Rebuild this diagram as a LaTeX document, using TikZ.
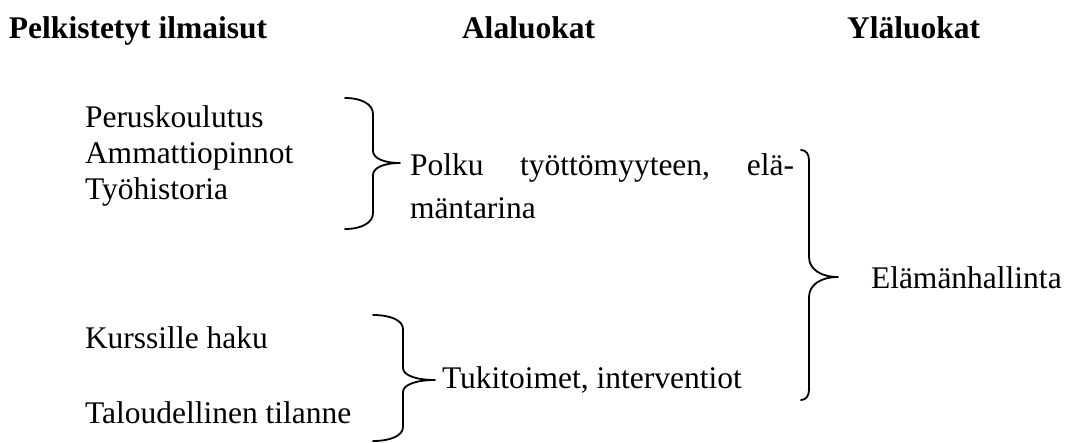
\documentclass[tikz,border=0pt]{standalone}
\usepackage{fontspec}
\setmainfont{Liberation Serif}
\newcommand\wbrace[8]{% L V T A M B rt rm
  \draw[bracestyle] (#1,#4) .. controls ({#1+0.6*(#2-#1)},#4) and (#2,{#4+0.4*#7}) .. (#2,{#4+#7})
    -- (#2,{#5-#8}) .. controls (#2,{#5-0.4*#8}) and ({#3-0.6*(#3-#2)},#5) .. (#3,#5)
    .. controls ({#3-0.6*(#3-#2)},#5) and (#2,{#5+0.4*#8}) .. (#2,{#5+#8})
    -- (#2,{#6-#7}) .. controls (#2,{#6-0.4*#7}) and ({#1+0.6*(#2-#1)},#6) .. (#1,#6);}
\begin{document}
\begin{tikzpicture}[x=1pt,y=-1pt,
  txt/.style={anchor=base west,inner sep=0pt,outer sep=0pt,font=\fontsize{31.5}{36}\selectfont},
  head/.style={txt,font=\fontsize{31.5}{36}\selectfont\bfseries},
  bracestyle/.style={line width=1.8pt,line join=round,line cap=round}]
\useasboundingbox (0,0) rectangle (1066,442);
% headings
\node[head] (h1) at (9,38) {Pelkistetyt ilmaisut};
\node[head] (h2) at (462,38) {Alaluokat};
\node[head] (h3) at (847,38) {Yläluokat};
% reduced expressions
\node[txt] (e1) at (85,127) {Peruskoulutus};
\node[txt] (e2) at (85,163) {Ammattiopinnot};
\node[txt] (e3) at (85,199) {Työhistoria};
\node[txt] (e4) at (85,348) {Kurssille haku};
\node[txt] (e5) at (85,423) {Taloudellinen tilanne};
% subcategories
\node[txt,text width=384pt,align=left,font=\fontsize{31.5}{43}\selectfont] (s1) at (410,175)
  {Polku\hfill työttömyyteen,\hfill elä-\\mäntarina};
\node[txt] (s2) at (442,388) {Tukitoimet, interventiot};
% main category
\node[txt] (m1) at (871,288) {Elämänhallinta};
% braces
\wbrace{345}{373}{400}{98}{163}{229}{16}{12}
\wbrace{373}{403}{435}{315}{380}{441}{14}{12}
\wbrace{801}{809}{838}{150}{277}{400}{10}{20}
\end{tikzpicture}
\end{document}
